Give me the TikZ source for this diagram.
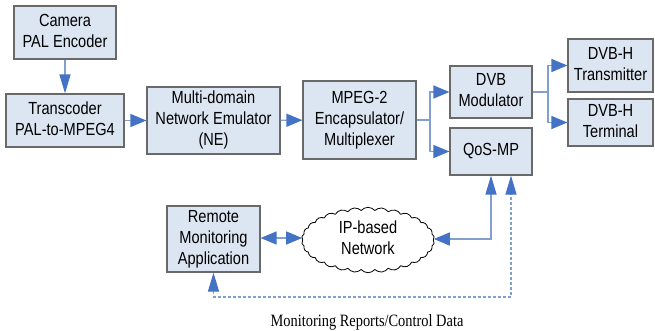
\documentclass[tikz,border=0pt]{standalone}
\usepackage{fontspec}
\setmainfont{Liberation Sans}
\newfontfamily\captionserif{Liberation Serif}
\usepackage{graphicx}
\usetikzlibrary{shapes.symbols}
\usetikzlibrary{arrows.meta}
\usepackage{xcolor}
\definecolor{boxfill}{RGB}{220,230,242}
\definecolor{boxline}{RGB}{105,105,105}
\definecolor{wire}{RGB}{130,160,205}
\definecolor{tipblue}{RGB}{68,114,196}
% text of the scan is a little taller than wide
\newcommand\tall[1]{\scalebox{1}[1.2]{\begin{tabular}{@{}c@{}}#1\end{tabular}}}

\begin{document}
\begin{tikzpicture}[x=1pt,y=-1pt,
  block/.style={draw=boxline,fill=boxfill,line width=1.2pt,inner sep=0pt,font=\fontsize{14.6}{17.5}\selectfont},
  htip/.tip={Triangle[length=16pt,width=13pt,color=tipblue]},
  vtip/.tip={Triangle[length=19pt,width=11pt,color=tipblue]},
  wireline/.style={draw=wire,line width=1.3pt},
  link/.style={wireline,-htip},
  vlink/.style={wireline,-vtip}]
\useasboundingbox (0,0) rectangle (655,330);

\node [block,minimum width=102pt,minimum height=53pt] (cam) at (65,32.5) {\tall{Camera\\PAL Encoder}};
\node [block,minimum width=118pt,minimum height=53pt] (trans) at (65,120.5) {\tall{Transcoder\\PAL-to-MPEG4}};
\node [block,minimum width=133pt,minimum height=67pt] (ne) at (213.5,120.5) {\tall{Multi-domain\\Network Emulator\\(NE)}};
\node [block,minimum width=113pt,minimum height=78pt] (mpeg) at (359.5,120) {\tall{MPEG-2\\Encapsulator/\\Multiplexer}};
\node [block,minimum width=82pt,minimum height=52pt] (dvb) at (491,92) {\tall{DVB\\Modulator}};
\node [block,minimum width=82pt,minimum height=47pt] (qos) at (491,151.5) {\tall{QoS-MP}};
\node [block,minimum width=85pt,minimum height=53pt] (tx) at (610.5,65.5) {\tall{DVB-H\\Transmitter}};
\node [block,minimum width=85pt,minimum height=47pt] (term) at (610.5,122.5) {\tall{DVB-H\\Terminal}};
\node [block,minimum width=93pt,minimum height=66pt] (remote) at (213.5,239) {\tall{Remote\\Monitoring\\Application}};
\node [cloud,draw=black,fill=white,line width=0.8pt,cloud puffs=30,cloud puff arc=100,aspect=2.2,minimum width=121pt,minimum height=64pt,inner sep=0pt,font=\fontsize{14.6}{17.5}\selectfont] (net) at (368,240) {\tall{IP-based\\Network}};

\coordinate (split) at (430,120);
\coordinate (fork) at (548,92);
\coordinate (rep) at (511,297);

\draw [vlink] (cam) -- (trans);
\draw [link] (trans) -- (ne);
\draw [link] (ne) -- (mpeg);
\draw [wireline] (mpeg.east |- split) -- (split);
\draw [link] (split) |- (dvb.west);
\draw [link] (split) |- (qos.west);
\draw [wireline] (dvb.east) -- (fork);
\draw [link] (fork) |- (tx.west);
\draw [link] (fork) |- (term.west);
\draw [wireline,htip-htip] (remote.east |- 0,238) -- (net.west |- 0,238);
\draw [wireline,htip-vtip] (net.east |- 0,239) -| (qos.south);
\draw [wireline,line width=1.2pt,dash pattern=on 3pt off 2pt,vtip-vtip] (remote.south) |- (rep) -- (rep |- qos.south);

\node [font=\captionserif\fontsize{14.4}{17}\selectfont] (caption) at (367,322) {\tall{Monitoring Reports/Control Data}};
\end{tikzpicture}
\end{document}
